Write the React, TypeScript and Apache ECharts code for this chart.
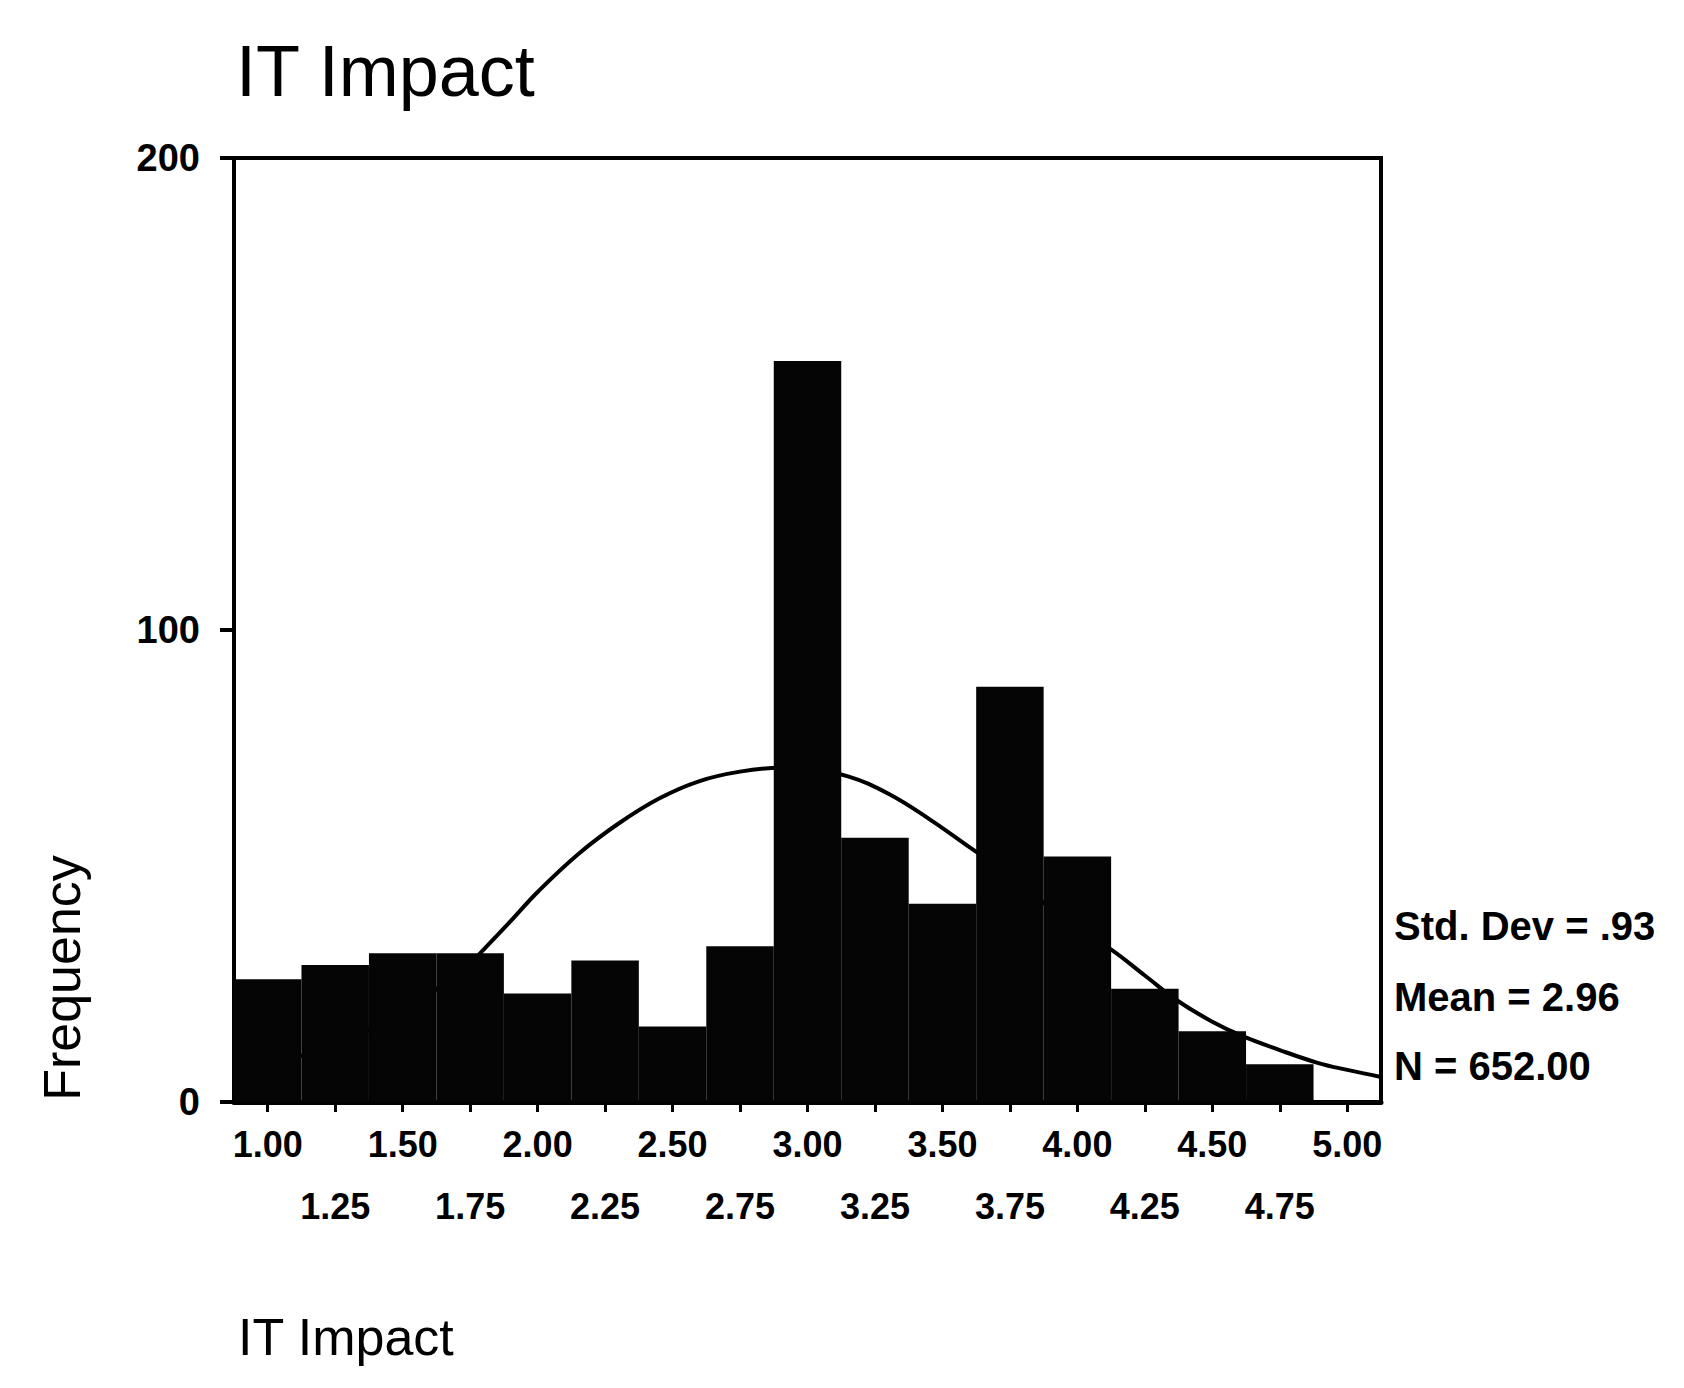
import React, { useEffect, useRef } from "react";
import * as echarts from "echarts";

// Histogram bins (bin width 0.25, centred on the tick values)
const categories = [
  "1.00", "1.25", "1.50", "1.75", "2.00", "2.25", "2.50", "2.75", "3.00",
  "3.25", "3.50", "3.75", "4.00", "4.25", "4.50", "4.75", "5.00",
];
const frequencies = [26, 29, 31.5, 31.5, 23, 30, 16, 33, 157, 56, 42, 88, 52, 24, 15, 8, 0];

// Fitted normal curve
const curveX = [0.875, 1.0, 1.25, 1.5, 1.75, 1.8, 1.9, 2.0, 2.15, 2.3, 2.45, 2.6, 2.75, 2.9, 3.0, 3.15, 3.3, 3.45, 3.6, 3.75, 3.9, 4.0, 4.12, 4.25, 4.37, 4.5, 4.61, 4.75, 4.89, 5.0, 5.125];
const curveY = [6, 7.6, 12.3, 19, 29.5, 32.3, 38.3, 44.5, 52.5, 59, 64.3, 68, 70, 70.8, 70.5, 69, 65.3, 60, 54, 48, 41, 36.5, 32.5, 26.8, 21.5, 17, 14, 11, 8.3, 6.8, 5.3];

const yMin = 0;
const yMax = 200;
const yStep = 100;

const titleText = "IT Impact";
const xAxisTitle = "IT Impact";
const yAxisTitle = "Frequency";
const statsLines = ["Std. Dev = .93", "Mean = 2.96", "N = 652.00"];

const FONT = "'Liberation Sans', Arial, Helvetica, sans-serif";

export default function App() {
  const ref = useRef<HTMLDivElement>(null);

  useEffect(() => {
    if (!ref.current) return;
    const chart = echarts.init(ref.current, null, { renderer: "svg" });

    const grid = { left: 234, right: 303, top: 158, bottom: 286 };

    const option: any = {
      animation: false,
      backgroundColor: "#ffffff",
      grid: {
        ...grid,
        show: true,
        borderColor: "#000",
        borderWidth: 4,
        backgroundColor: "transparent",
      },
      xAxis: [
        {
          type: "category",
          data: categories,
          boundaryGap: true,
          axisLine: { show: true, lineStyle: { color: "#000", width: 5 } },
          axisTick: { show: true, alignWithLabel: true, length: 10, lineStyle: { color: "#000", width: 3 }, interval: 0 },
          axisLabel: {
            interval: 0,
            margin: 11,
            fontFamily: FONT,
            fontSize: 36,
            fontWeight: "bold",
            color: "#000",
            lineHeight: 62,
            formatter: (v: string, i: number) => (i % 2 === 0 ? v : "\n" + v),
          },
          splitLine: { show: false },
        },
        {
          type: "value",
          min: 0.875,
          max: 5.125,
          show: false,
          splitLine: { show: false },
        },
      ],
      yAxis: {
        type: "value",
        min: yMin,
        max: yMax,
        interval: yStep,
        axisLine: { show: true, lineStyle: { color: "#000", width: 4 } },
        axisTick: { show: true, length: 14, lineStyle: { color: "#000", width: 4 } },
        axisLabel: {
          margin: 34,
          fontFamily: FONT,
          fontSize: 38,
          fontWeight: "bold",
          color: "#000",
        },
        splitLine: { show: false },
      },
      series: [
        {
          type: "line",
          xAxisIndex: 1,
          data: curveX.map((x, i) => [x, curveY[i]]),
          smooth: 0.4,
          showSymbol: false,
          lineStyle: { color: "#000", width: 4 },
          z: 1,
        },
        {
          type: "bar",
          xAxisIndex: 0,
          data: frequencies,
          barWidth: "100%",
          barCategoryGap: "0%",
          itemStyle: { color: "#050505", borderColor: "#050505", borderWidth: 2 },
          z: 2,
        },
      ],
      graphic: [
        {
          type: "text",
          x: 236,
          y: 71,
          style: {
            text: titleText,
            font: `normal 72px ${FONT}`,
            fill: "#000",
            align: "left",
            verticalAlign: "middle",
          },
        },
        {
          type: "text",
          x: 238,
          y: 1337,
          style: {
            text: xAxisTitle,
            font: `normal 52px ${FONT}`,
            fill: "#000",
            align: "left",
            verticalAlign: "middle",
          },
        },
        {
          type: "text",
          x: 62,
          y: 978,
          rotation: Math.PI / 2,
          style: {
            text: yAxisTitle,
            font: `normal 52px ${FONT}`,
            fill: "#000",
            align: "center",
            verticalAlign: "middle",
          },
        },
        ...statsLines.map((t, i) => ({
          type: "text",
          x: 1394,
          y: [926, 997, 1066][i],
          style: {
            text: t,
            font: `bold 40px ${FONT}`,
            fill: "#000",
            align: "left",
            verticalAlign: "middle",
          },
        })),
      ],
    };

    chart.setOption(option);
    return () => chart.dispose();
  }, []);

  return (
    <div
      ref={ref}
      style={{ position: "fixed", left: 0, top: 0, width: 1684, height: 1388, background: "#fff" }}
    />
  );
}
